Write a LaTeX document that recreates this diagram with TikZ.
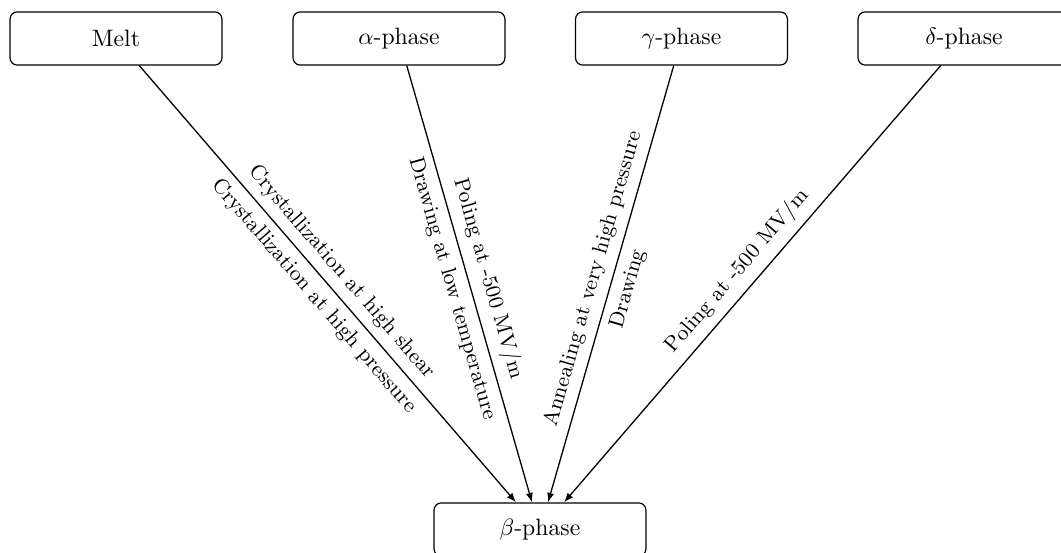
\documentclass[tikz,border=0pt]{standalone}
\usetikzlibrary{arrows.meta,calc}

\begin{document}
\begin{tikzpicture}[
  x=0.4219pt, y=-0.4219pt,
  phasebox/.style={draw, line width=0.5pt, rounded corners=3pt,
    minimum width=89.4pt, minimum height=22.4pt, inner sep=0pt},
  flow/.style={line width=0.55pt, -{Latex[length=4pt,width=3pt]}},
  lbl/.style={font=\small, sloped, midway}
]
  \useasboundingbox (0,0) rectangle (1061,553);
  \begin{scope}
    \clip (0,0) rectangle (1061,553);

    % source phases along the top
    \node[phasebox] (melt)  at (116,38.5)   {Melt};
    \node[phasebox] (alpha) at (399,38.5)   {$\alpha$-phase};
    \node[phasebox] (gamma) at (681.5,38.5) {$\gamma$-phase};
    \node[phasebox] (delta) at (964,38.5)   {$\delta$-phase};

    % target phase
    \node[phasebox] (beta)  at (540,529.5)  {$\beta$-phase};

    % arrival points on the top edge of the beta box
    \coordinate (t1) at ($(beta.north)+(-24,0)$);
    \coordinate (t2) at ($(beta.north)+(-8,0)$);
    \coordinate (t3) at ($(beta.north)+(8,0)$);
    \coordinate (t4) at ($(beta.north)+(24,0)$);

    % transformation routes
    \draw[flow] (melt) -- (t1)
      node[lbl, above] {Crystallization at high shear}
      node[lbl, below] {Crystallization at high pressure};
    \draw[flow] (alpha) -- (t2)
      node[lbl, above] {Poling at -500 MV/m}
      node[lbl, below] {Drawing at low temperature};
    \draw[flow] (gamma) -- (t3)
      node[lbl, above] {Annealing at very high pressure}
      node[lbl, below] {Drawing};
    \draw[flow] (delta) -- (t4)
      node[lbl, above] {Poling at -500 MV/m};
  \end{scope}
\end{tikzpicture}
\end{document}
